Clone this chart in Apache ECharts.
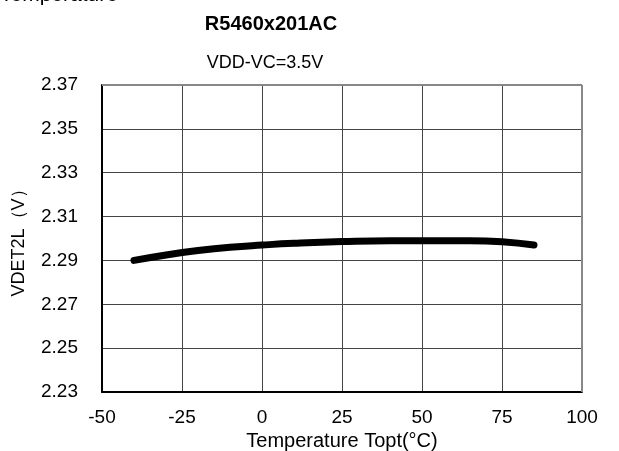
<!DOCTYPE html>
<html><head><meta charset="utf-8">
<script src="https://cdn.jsdelivr.net/npm/echarts@6/dist/echarts.min.js"></script>
<style>html,body{margin:0;padding:0;background:#fff}#c{width:619px;height:451px}</style>
</head><body><div id="c"></div>
<script>
const temps = [-40, -30, -20, -10, 0, 10, 25, 40, 50, 65, 75, 85];
const vdet = [2.290, 2.2925, 2.2945, 2.296, 2.297, 2.2978, 2.2986, 2.299, 2.299, 2.299, 2.2985, 2.297];
const xTicks = [-50, -25, 0, 25, 50, 75, 100];
const yTicks = [2.23, 2.25, 2.27, 2.29, 2.31, 2.33, 2.35, 2.37];

const chart = echarts.init(document.getElementById('c'));
const font = 'Liberation Sans, Arial, sans-serif';
chart.setOption({
  animation: false,
  backgroundColor: '#fff',
  title: [
    {text: 'R5460x201AC', left: 266, top: 9, textAlign: 'center',
     textStyle: {fontFamily: font, fontSize: 20, fontWeight: 'bold', color: '#000'}},
    {text: 'VDD-VC=3.5V', left: 260, top: 49, textAlign: 'center',
     textStyle: {fontFamily: font, fontSize: 18, fontWeight: 'normal', color: '#000'}}
  ],
  graphic: [
    {type: 'text', left: 0, top: -15, style: {text: 'Temperature', font: '21px ' + font, fill: '#000'}}
  ],
  grid: {left: 102, right: 37, top: 85, bottom: 59, containLabel: false, outerBoundsMode: 'none'},
  xAxis: {
    type: 'value', min: -50, max: 100, interval: 25,
    name: 'Temperature Topt(°C)', nameLocation: 'middle', nameGap: 31,
    nameTextStyle: {fontFamily: font, fontSize: 20, color: '#000'},
    axisLine: {show: true, onZero: false, lineStyle: {color: '#000', width: 2}},
    axisTick: {show: false},
    axisLabel: {fontFamily: font, fontSize: 19, color: '#000', margin: 16,
      formatter: v => xTicks.includes(v) ? String(v) : ''},
    splitLine: {show: true, lineStyle: {color: '#444', width: 1}}
  },
  yAxis: {
    type: 'value', min: 2.23, max: 2.37, interval: 0.02,
    name: 'VDET2L（V）', nameLocation: 'middle', nameGap: 74, nameRotate: 90,
    nameTextStyle: {fontFamily: font, fontSize: 18, color: '#000'},
    axisLine: {show: true, onZero: false, lineStyle: {color: '#000', width: 2}},
    axisTick: {show: false},
    axisLabel: {fontFamily: font, fontSize: 19, color: '#000', margin: 24,
      formatter: v => { const t = yTicks.find(y => Math.abs(y - v) < 1e-6); return t !== undefined ? t.toFixed(2) : ''; }},
    splitLine: {show: true, lineStyle: {color: '#444', width: 1}}
  },
  series: [{
    type: 'line', smooth: true, showSymbol: false,
    data: temps.map((t, i) => [t, vdet[i]]),
    lineStyle: {color: '#000', width: 7, cap: 'round', join: 'round'}
  }, {
    type: 'line', data: [], markLine: {silent: true, symbol: 'none', label: {show: false},
      lineStyle: {color: '#888', width: 2, type: 'solid'}, data: [[{coord: [100, 2.23]}, {coord: [100, 2.37]}], [{coord: [-50, 2.37]}, {coord: [100, 2.37]}]]}
  }]
});
</script></body></html>
